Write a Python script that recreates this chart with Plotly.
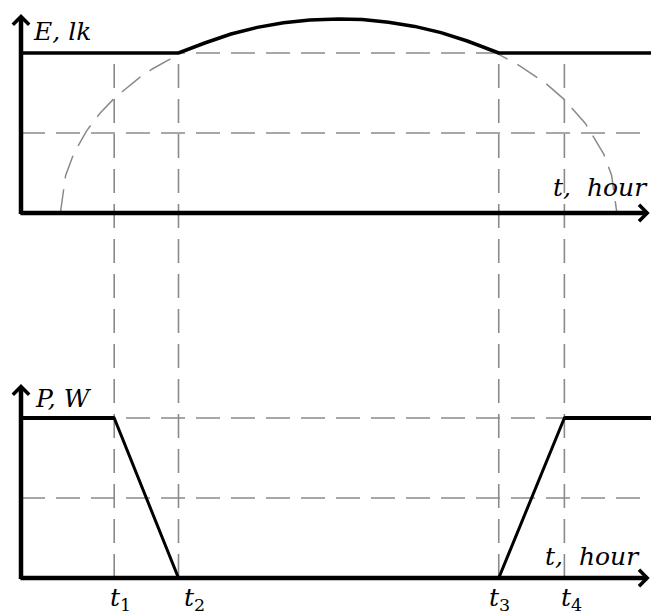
import plotly.graph_objects as go

# switching moments, hours
t_hours = [3.55, 6.0, 18.2, 20.7]
t_labels = ["1", "2", "3", "4"]

# daylight illumination curve (dashed)
arc_hours = [1.5, 1.7, 2.0, 2.5, 3.0, 3.55, 4.5, 5.0, 6.0, 7.0, 8.0, 9.0, 10.0, 11.0,
             12.1, 13.0, 14.0, 15.0, 16.0, 17.0, 18.2, 19.0, 20.0, 20.7, 21.5, 22.2,
             22.5, 22.7]
arc_lux = [0, 18.8, 29.4, 41.1, 49.7, 57.3, 67.6, 72.0, 79.3, 85.0, 89.5, 92.8, 95.1,
           96.5, 97.0, 96.7, 95.4, 93.3, 90.2, 86.0, 79.3, 73.6, 64.7, 56.7, 44.8, 29.4,
           18.8, 0]
e_levels = [80, 40]

# lamp power
p_hours = [0, 3.55, 6.0, 18.2, 20.7, 24]
p_watts = [80, 80, 0, 0, 80, 80]
p_levels = [80, 40]

t_end = 24

W, H = 651, 614
x_range = [-0.8, t_end]
y_top_range = [-10, 106.5]
y_bot_range = [-10, 104]
y_top_dom = [1 - 233 / H, 1]
y_bot_dom = [1 - 598 / H, 1 - 370 / H]


def paper_y(v, rng, dom):
    return dom[0] + (v - rng[0]) / (rng[1] - rng[0]) * (dom[1] - dom[0])


gray = "#8a8a8a"
dash = "24px,11px"
font = dict(family="DejaVu Serif", size=25, color="black")

fig = go.Figure()

# horizontal dashed guide lines
for lv in e_levels:
    fig.add_trace(go.Scatter(x=[0, t_end], y=[lv, lv], mode="lines", yaxis="y",
                             line=dict(color=gray, width=1.6, dash=dash)))
for lv in p_levels:
    fig.add_trace(go.Scatter(x=[0, t_end], y=[lv, lv], mode="lines", yaxis="y2",
                             line=dict(color=gray, width=1.6, dash=dash)))

# dashed daylight arc
fig.add_trace(go.Scatter(x=arc_hours, y=arc_lux, mode="lines", yaxis="y",
                         line=dict(color=gray, width=1.5, dash=dash)))

# solid illumination (lamp keeps threshold, sun above it)
thr = e_levels[0]
mid = [(h, e) for h, e in zip(arc_hours, arc_lux) if t_hours[1] < h < t_hours[2]]
e_x = [0, t_hours[1]] + [h for h, _ in mid] + [t_hours[2], t_end]
e_y = [thr, thr] + [e for _, e in mid] + [thr, thr]
fig.add_trace(go.Scatter(x=e_x, y=e_y, mode="lines", yaxis="y",
                         line=dict(color="black", width=3.5)))

# power
fig.add_trace(go.Scatter(x=p_hours, y=p_watts, mode="lines", yaxis="y2",
                         line=dict(color="black", width=3)))
fig.add_trace(go.Scatter(x=[0, p_hours[1]], y=p_watts[:2], mode="lines", yaxis="y2",
                         line=dict(color="black", width=4)))
fig.add_trace(go.Scatter(x=p_hours[-2:], y=p_watts[-2:], mode="lines", yaxis="y2",
                         line=dict(color="black", width=4)))

# vertical dashed lines through both panels
y_lo = paper_y(0, y_bot_range, y_bot_dom)
y_hi = paper_y(thr, y_top_range, y_top_dom)
for th in t_hours:
    fig.add_shape(type="line", xref="x", yref="paper", x0=th, x1=th, y0=y_lo, y1=y_hi,
                  line=dict(color=gray, width=1.6, dash=dash), layer="below")

# axes with arrows
arrow = dict(text="", showarrow=True, arrowhead=4, arrowsize=0.7, arrowwidth=4.5,
             arrowcolor="black", axref="x", xref="x")
fig.add_annotation(x=t_end - 0.05, y=0, ax=-0.08, ay=0, yref="y", ayref="y", **arrow)
fig.add_annotation(x=0, y=99.5, ax=0, ay=-1.2, yref="y", ayref="y", **arrow)
fig.add_annotation(x=t_end - 0.05, y=0, ax=-0.08, ay=0, yref="y2", ayref="y2", **arrow)
fig.add_annotation(x=0, y=97, ax=0, ay=-1.2, yref="y2", ayref="y2", **arrow)

# axis titles
lab = dict(showarrow=False, font=font, xref="paper", yref="paper")
fig.add_annotation(text="<i>E, lk</i>", x=31 / W, y=1 - 31 / H, xanchor="left",
                   yanchor="middle", **lab)
fig.add_annotation(text="<i>t,  hour</i>", x=650 / W, y=1 - 187 / H, xanchor="right",
                   yanchor="middle", **lab)
fig.add_annotation(text="<i>P, W</i>", x=33 / W, y=1 - 398 / H, xanchor="left",
                   yanchor="middle", **lab)
fig.add_annotation(text="<i>t,  hour</i>", x=642 / W, y=1 - 556 / H, xanchor="right",
                   yanchor="middle", **lab)

# t labels
shifts = [6, 16, 1, 7]
for th, tl, sh in zip(t_hours, t_labels, shifts):
    fig.add_annotation(text="<i>t</i><sub>" + tl + "</sub>", x=th, xref="x",
                       y=1 - 599 / H, yref="paper", xshift=sh, showarrow=False,
                       font=font, xanchor="center", yanchor="middle")

fig.update_layout(
    width=W, height=H, margin=dict(l=0, r=0, t=0, b=0),
    plot_bgcolor="white", paper_bgcolor="white", showlegend=False,
    xaxis=dict(range=x_range, domain=[0, 1], visible=False, fixedrange=True),
    yaxis=dict(range=y_top_range, domain=y_top_dom, visible=False, anchor="x"),
    yaxis2=dict(range=y_bot_range, domain=y_bot_dom, visible=False, anchor="x"),
)
fig.write_html("out.html", config={"displayModeBar": False},
               post_script="document.body.style.margin='0';"
                           "document.body.style.overflow='hidden';")
